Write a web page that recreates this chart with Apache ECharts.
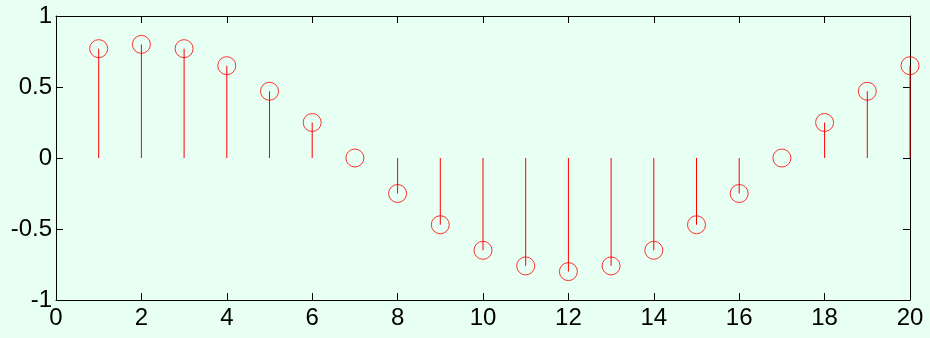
<!DOCTYPE html>
<html>
<head>
<meta charset="utf-8">
<script src="https://cdn.jsdelivr.net/npm/echarts@6/dist/echarts.min.js"></script>
<style>
  html, body { margin: 0; padding: 0; background: #e8fff4; }
  #main { width: 930px; height: 338px; }
</style>
</head>
<body>
<div id="main"></div>
<script>
// 采样点序号
const nList = [1, 2, 3, 4, 5, 6, 7, 8, 9, 10, 11, 12, 13, 14, 15, 16, 17, 18, 19, 20]
// 各点取值
const yList = [0.77, 0.80, 0.77, 0.65, 0.47, 0.25, 0.0, -0.25, -0.47, -0.65,
               -0.76, -0.80, -0.76, -0.65, -0.47, -0.25, 0.0, 0.25, 0.47, 0.65]

const stemData = nList.map((n, i) => [n, yList[i]])

const chartDom = document.getElementById('main')
const myChart = echarts.init(chartDom)

const lineStyle = { color: '#000', width: 1 }

const option = {
  backgroundColor: '#e8fff4',
  animation: false,
  grid: { left: 56, right: 20, top: 16, bottom: 38 },
  xAxis: [
    {
      type: 'value', min: 0, max: 20, interval: 2, position: 'bottom',
      axisLine: { show: true, onZero: false, lineStyle: lineStyle },
      axisTick: { show: true, inside: true, length: 7, lineStyle: lineStyle },
      axisLabel: { margin: 6, color: '#000', fontSize: 24, fontFamily: 'Liberation Sans' },
      splitLine: { show: false }
    },
    {
      type: 'value', min: 0, max: 20, interval: 2, position: 'top',
      axisLine: { show: true, onZero: false, lineStyle: lineStyle },
      axisTick: { show: true, inside: true, length: 7, lineStyle: lineStyle },
      axisLabel: { show: false },
      splitLine: { show: false }
    }
  ],
  yAxis: [
    {
      type: 'value', min: -1, max: 1, interval: 0.5, position: 'left',
      axisLine: { show: true, onZero: false, lineStyle: lineStyle },
      axisTick: { show: true, inside: true, length: 7, lineStyle: lineStyle },
      axisLabel: { margin: 4, color: '#000', fontSize: 24, fontFamily: 'Liberation Sans' },
      splitLine: { show: false }
    },
    {
      type: 'value', min: -1, max: 1, interval: 0.5, position: 'right',
      axisLine: { show: true, onZero: false, lineStyle: lineStyle },
      axisTick: { show: true, inside: true, length: 7, lineStyle: lineStyle },
      axisLabel: { show: false },
      splitLine: { show: false }
    }
  ],
  series: [
    {
      // 杆
      type: 'custom',
      clip: false,
      data: stemData,
      renderItem: function (params, api) {
        const p0 = api.coord([api.value(0), 0])
        const p1 = api.coord([api.value(0), api.value(1)])
        return {
          type: 'line',
          shape: { x1: p0[0], y1: p0[1], x2: p1[0], y2: p1[1] },
          style: { stroke: '#ff0000', lineWidth: 1 }
        }
      }
    },
    {
      // 圆圈标记
      type: 'scatter',
      clip: false,
      data: stemData,
      symbol: 'circle',
      symbolSize: 18,
      itemStyle: { color: 'rgba(0,0,0,0)', borderColor: '#ff0000', borderWidth: 1 }
    }
  ]
}

myChart.setOption(option)
</script>
</body>
</html>
